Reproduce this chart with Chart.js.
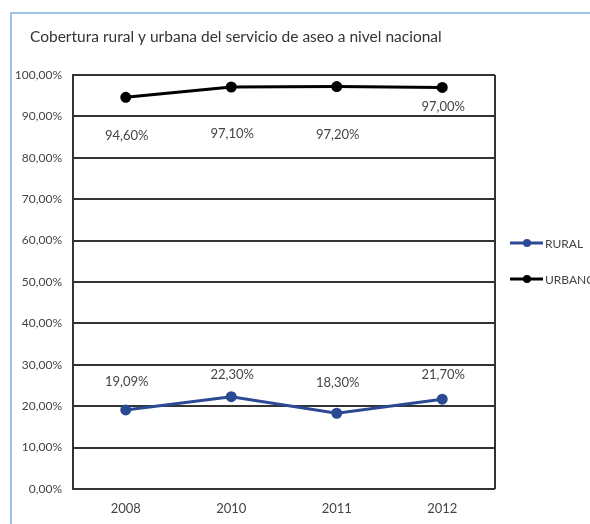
<!DOCTYPE html>
<html>
<head>
<meta charset="utf-8">
<title>Cobertura del servicio de aseo</title>
<script src="https://cdn.jsdelivr.net/npm/chart.js@4/dist/chart.umd.min.js"></script>
<style>
  html, body { margin: 0; padding: 0; overflow: hidden; background: #ffffff; }
  canvas { display: block; }
</style>
</head>
<body>
<canvas id="chart" width="600" height="524"></canvas>
<script>
// Coverage of the waste collection service, by area (percent)
const TITLE = 'Cobertura rural y urbana del servicio de aseo a nivel nacional';
const years = ['2008', '2010', '2011', '2012'];
const rural = [19.09, 22.30, 18.30, 21.70];
const urbano = [94.60, 97.10, 97.20, 97.00];
const yTicks = [0, 10, 20, 30, 40, 50, 60, 70, 80, 90, 100];

const fmt = v => v.toFixed(2).replace('.', ',') + '%';
const FONT = 'Lato, "Open Sans", sans-serif';

// vertical offsets (px) of each value label from its point
const labelOffsets = [
  [-28, -22, -30, -24],
  [38, 47, 48, 19]
];

const framePlugin = {
  id: 'frame',
  beforeDraw(chart) {
    const ctx = chart.ctx;
    ctx.save();
    ctx.fillStyle = '#ffffff';
    ctx.fillRect(0, 0, chart.width, chart.height);
    ctx.strokeStyle = '#9dc3e6';
    ctx.lineWidth = 2;
    ctx.beginPath();
    ctx.moveTo(11, chart.height);
    ctx.lineTo(11, 13);
    ctx.lineTo(chart.width, 13);
    ctx.stroke();
    ctx.fillStyle = '#333333';
    ctx.font = '15.5px ' + FONT;
    ctx.textBaseline = 'middle';
    ctx.textAlign = 'left';
    ctx.fillText(TITLE, 30, 37);
    ctx.restore();
  },
  beforeDatasetsDraw(chart) {
    const a = chart.chartArea;
    const ctx = chart.ctx;
    ctx.save();
    ctx.strokeStyle = '#333333';
    ctx.lineWidth = 2;
    ctx.beginPath();
    ctx.moveTo(a.right, a.top);
    ctx.lineTo(a.right, a.bottom);
    ctx.stroke();
    ctx.restore();
  },
  afterDatasetsDraw(chart) {
    const ctx = chart.ctx;
    ctx.save();
    ctx.font = '13px ' + FONT;
    ctx.fillStyle = '#444444';
    ctx.textAlign = 'center';
    ctx.textBaseline = 'middle';
    chart.data.datasets.forEach((ds, i) => {
      const meta = chart.getDatasetMeta(i);
      meta.data.forEach((pt, j) => {
        ctx.fillText(fmt(ds.data[j]), pt.x + 1, pt.y + labelOffsets[i][j]);
      });
    });
    // legend: line with marker, then the series name
    const legendY = [243, 279];
    chart.data.datasets.forEach((ds, i) => {
      const y = legendY[i];
      ctx.strokeStyle = ds.borderColor;
      ctx.lineWidth = 3;
      ctx.beginPath();
      ctx.moveTo(510, y);
      ctx.lineTo(543, y);
      ctx.stroke();
      ctx.fillStyle = ds.borderColor;
      ctx.beginPath();
      ctx.arc(527, y, 4, 0, Math.PI * 2);
      ctx.fill();
      ctx.fillStyle = '#444444';
      ctx.font = '12px ' + FONT;
      ctx.textAlign = 'left';
      ctx.fillText(ds.label, 545, y + 1);
    });
    ctx.restore();
  }
};

new Chart(document.getElementById('chart'), {
  type: 'line',
  data: {
    labels: years,
    datasets: [
      {
        label: 'RURAL',
        data: rural,
        borderColor: '#2c4a94',
        backgroundColor: '#2c4a94',
        borderWidth: 3,
        pointRadius: 4,
        pointHoverRadius: 4,
        tension: 0
      },
      {
        label: 'URBANO',
        data: urbano,
        borderColor: '#000000',
        backgroundColor: '#000000',
        borderWidth: 3,
        pointRadius: 4,
        pointHoverRadius: 4,
        tension: 0
      }
    ]
  },
  options: {
    responsive: false,
    animation: false,
    layout: { padding: { left: 0, top: 75, right: 105, bottom: 0 } },
    plugins: {
      legend: { display: false },
      tooltip: { enabled: false },
      title: { display: false }
    },
    scales: {
      x: {
        offset: true,
        grid: { display: false, drawTicks: false },
        border: { display: false },
        ticks: { color: '#444444', font: { family: FONT, size: 13 }, padding: 12 },
        afterFit(scale) { scale.height = 35; }
      },
      y: {
        min: 0,
        max: 100,
        afterBuildTicks(scale) { scale.ticks = yTicks.map(v => ({ value: v })); },
        grid: { color: '#333333', lineWidth: 2, drawTicks: false },
        border: { display: true, color: '#333333', width: 2 },
        ticks: {
          color: '#444444',
          font: { family: FONT, size: 12 },
          padding: 11,
          callback: v => fmt(v)
        },
        afterFit(scale) { scale.width = 73; }
      }
    }
  },
  plugins: [framePlugin]
});
</script>
</body>
</html>
